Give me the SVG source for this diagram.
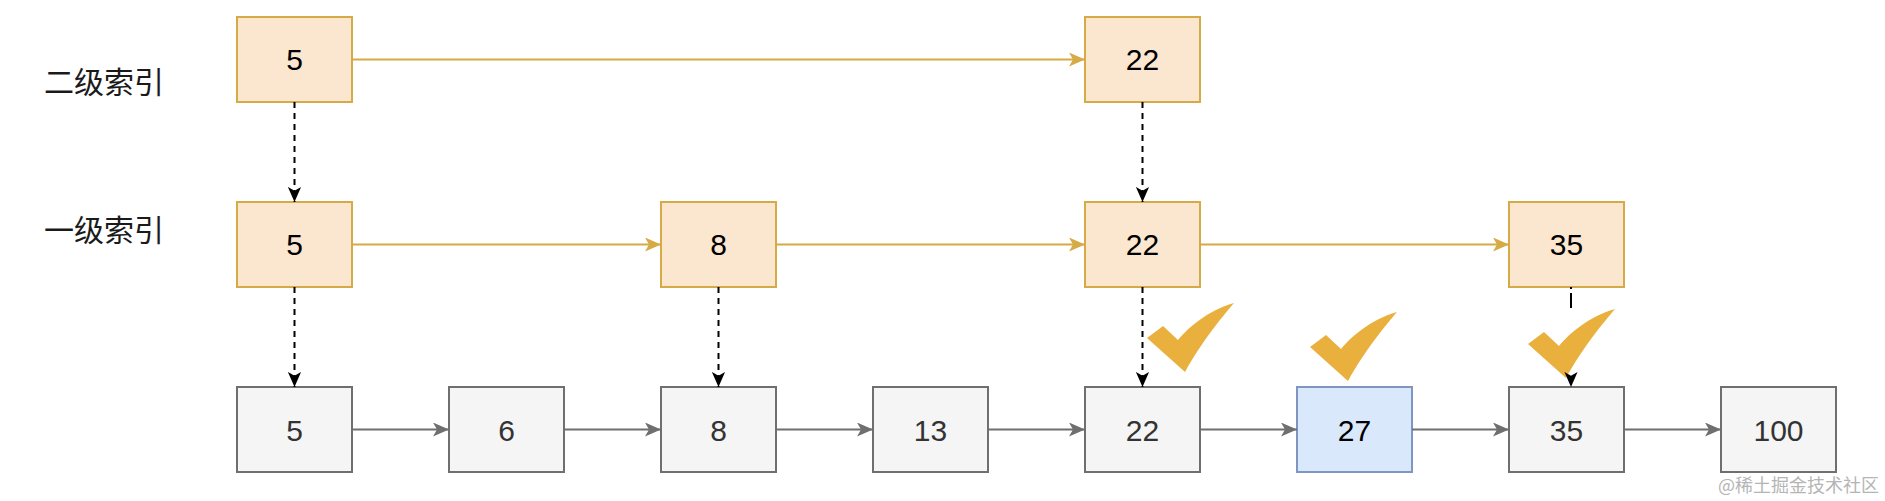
<svg xmlns="http://www.w3.org/2000/svg" width="1885" height="501" viewBox="0 0 1885 501">
<style>
.o{fill:#fbe7cf;stroke:#d6aa45;stroke-width:2}
.g{fill:#f5f5f5;stroke:#6f6f6f;stroke-width:2}
.b{fill:#dae8fc;stroke:#7f95c4;stroke-width:2}
.t{font-family:"Liberation Sans",Arial,sans-serif;font-size:30px;text-anchor:middle;fill:#000}
.tg{fill:#333}
.lab{font-family:"Noto Sans CJK SC","Noto Sans",sans-serif;font-size:30px;fill:#1a1a1a}
.wm{font-family:"Noto Sans CJK SC",sans-serif;font-size:18px;fill:#b5b5b5}
.eo{fill:none;stroke:#d6aa45;stroke-width:2;marker-end:url(#ao)}
.eg{fill:none;stroke:#6f6f6f;stroke-width:2;marker-end:url(#ag)}
.ed{fill:none;stroke:#000;stroke-width:2;stroke-dasharray:6 5;marker-end:url(#ad)}
.ck{fill:#e9b03e}
</style>
<defs>
<marker id="ao" viewBox="0 0 16 14" refX="16" refY="7" markerWidth="16" markerHeight="14" markerUnits="userSpaceOnUse" orient="auto"><path d="M0 0L16 7L0 14L4 7Z" fill="#d6aa45"/></marker>
<marker id="ag" viewBox="0 0 16 14" refX="16" refY="7" markerWidth="16" markerHeight="14" markerUnits="userSpaceOnUse" orient="auto"><path d="M0 0L16 7L0 14L4 7Z" fill="#6f6f6f"/></marker>
<marker id="ad" viewBox="0 0 16 14" refX="16" refY="7" markerWidth="15" markerHeight="14" markerUnits="userSpaceOnUse" orient="auto"><path d="M0 0L16 7L0 14L4 7Z" fill="#000"/></marker>
<path id="check" d="M0 35L16 23L31 37C42 24 60 8 87 0C76 13 55 38 38 69Z"/>
</defs>

<g id="labels">
<text class="lab" x="44" y="93">二级索引</text>
<text class="lab" x="44" y="241">一级索引</text>
</g>

<g id="checks">
<use href="#check" class="ck" x="1147" y="303"/>
<use href="#check" class="ck" x="1310" y="312"/>
<use href="#check" class="ck" x="1528" y="309"/>
</g>

<g id="l2-5"><rect class="o" x="237" y="17" width="115" height="85"/><text class="t" x="294.5" y="70">5</text></g>
<g id="l2-22"><rect class="o" x="1085" y="17" width="115" height="85"/><text class="t" x="1142.5" y="70">22</text></g>

<g id="l1-5"><rect class="o" x="237" y="202" width="115" height="85"/><text class="t" x="294.5" y="255">5</text></g>
<g id="l1-8"><rect class="o" x="661" y="202" width="115" height="85"/><text class="t" x="718.5" y="255">8</text></g>
<g id="l1-22"><rect class="o" x="1085" y="202" width="115" height="85"/><text class="t" x="1142.5" y="255">22</text></g>
<g id="l1-35"><rect class="o" x="1509" y="202" width="115" height="85"/><text class="t" x="1566.5" y="255">35</text></g>

<g id="n-5"><rect class="g" x="237" y="387" width="115" height="85"/><text class="t tg" x="294.5" y="441">5</text></g>
<g id="n-6"><rect class="g" x="449" y="387" width="115" height="85"/><text class="t tg" x="506.5" y="441">6</text></g>
<g id="n-8"><rect class="g" x="661" y="387" width="115" height="85"/><text class="t tg" x="718.5" y="441">8</text></g>
<g id="n-13"><rect class="g" x="873" y="387" width="115" height="85"/><text class="t tg" x="930.5" y="441">13</text></g>
<g id="n-22"><rect class="g" x="1085" y="387" width="115" height="85"/><text class="t tg" x="1142.5" y="441">22</text></g>
<g id="n-27"><rect class="b" x="1297" y="387" width="115" height="85"/><text class="t" x="1354.5" y="441">27</text></g>
<g id="n-35"><rect class="g" x="1509" y="387" width="115" height="85"/><text class="t tg" x="1566.5" y="441">35</text></g>
<g id="n-100"><rect class="g" x="1721" y="387" width="115" height="85"/><text class="t tg" x="1778.5" y="441">100</text></g>

<g id="connectors">
<path class="eo" d="M352 59.5H1085"/>
<path class="eo" d="M352 244.5H661"/>
<path class="eo" d="M776 244.5H1085"/>
<path class="eo" d="M1200 244.5H1509"/>
<path class="eg" d="M352 429.5H449"/>
<path class="eg" d="M564 429.5H661"/>
<path class="eg" d="M776 429.5H873"/>
<path class="eg" d="M988 429.5H1085"/>
<path class="eg" d="M1200 429.5H1297"/>
<path class="eg" d="M1412 429.5H1509"/>
<path class="eg" d="M1624 429.5H1721"/>
<path class="ed" d="M294.5 102V202"/>
<path class="ed" d="M1142.5 102V202"/>
<path class="ed" d="M294.5 287V387"/>
<path class="ed" d="M718.5 287V387"/>
<path class="ed" d="M1142.5 287V387"/>
<path class="ed" d="M1571 287V387" style="stroke-dasharray:2 4 15 1000"/>
</g>

<text class="wm" x="1718" y="492">@稀土掘金技术社区</text>
</svg>
